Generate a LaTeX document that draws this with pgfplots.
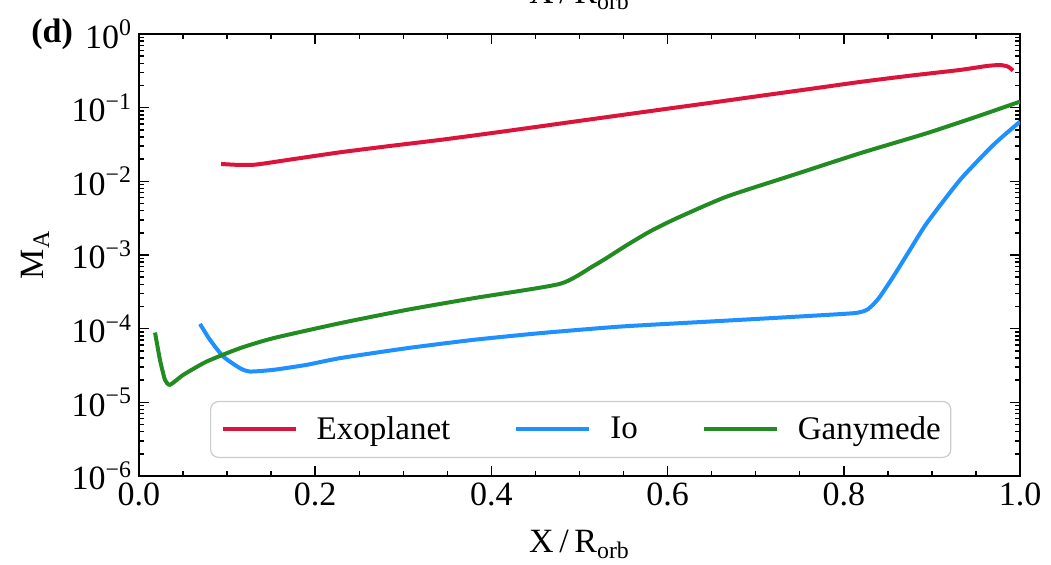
\documentclass[border=0pt]{standalone}
\usepackage{fontspec}
\setmainfont{Liberation Serif}
\usepackage{pgfplots}
\pgfplotsset{compat=1.18}
\definecolor{exo}{RGB}{220,20,60}
\definecolor{io}{RGB}{30,144,255}
\definecolor{gan}{RGB}{34,139,34}
\begin{document}
\begin{tikzpicture}[font=\fontsize{17}{20}\selectfont]
\begin{axis}[name=ax, at={(0,0)}, anchor=south west,
  scale only axis, width=440.5pt, height=221pt,
  xmin=0, xmax=1, ymin=1e-6, ymax=1, ymode=log,
  axis line style={line width=0.8pt},
  every tick/.style={black, line width=0.7pt},
  major tick length=5pt, minor tick length=2.5pt,
  tick align=inside, xtick pos=both, ytick pos=both,
  xtick={0,0.2,0.4,0.6,0.8,1},
  xticklabels={0.0,0.2,0.4,0.6,0.8,1.0},
  minor xtick={0.05,0.1,0.15,0.25,0.3,0.35,0.45,0.5,0.55,0.65,0.7,0.75,0.85,0.9,0.95},
  ytick={1e-6,1e-5,1e-4,1e-3,1e-2,1e-1,1},
  yticklabels={10\textsuperscript{−6},10\textsuperscript{−5},10\textsuperscript{−4},10\textsuperscript{−3},10\textsuperscript{−2},10\textsuperscript{−1},10\textsuperscript{0}},
  minor ytick={2e-6,3e-6,4e-6,5e-6,6e-6,7e-6,8e-6,9e-6,
    2e-5,3e-5,4e-5,5e-5,6e-5,7e-5,8e-5,9e-5,
    2e-4,3e-4,4e-4,5e-4,6e-4,7e-4,8e-4,9e-4,
    2e-3,3e-3,4e-3,5e-3,6e-3,7e-3,8e-3,9e-3,
    2e-2,3e-2,4e-2,5e-2,6e-2,7e-2,8e-2,9e-2,
    0.2,0.3,0.4,0.5,0.6,0.7,0.8,0.9},
  xlabel={X\,/\,R\textsubscript{orb}},
  xlabel style={at={(axis description cs:0.5,-0.174)}, anchor=base},
  ylabel={M\textsubscript{A}},
  ylabel style={at={(axis description cs:-0.108,0.5)}, anchor=base},
  legend columns=3,
  legend image code/.code={\draw[#1] (0pt,0pt) -- (36.5pt,0pt);},
  legend style={at={(0.0806,0.0407)}, anchor=south west,
    draw={rgb,255:red,204;green,204;blue,204}, line width=0.6pt,
    rounded corners=4pt, fill=white,
    inner xsep=5pt, inner ysep=7.5pt,
    nodes={inner sep=0pt, anchor=west, font=\fontsize{16.5}{19}\selectfont},
    /tikz/every odd column/.append style={column sep=9.5pt},
    /tikz/every even column/.append style={column sep=32pt}},
]
\addplot[exo, line width=2pt, smooth, tension=0.35] table {
0.0931 0.01722
0.1090 0.01679
0.1317 0.01683
0.1714 0.01972
0.2281 0.02477
0.2849 0.03020
0.3417 0.03648
0.3984 0.04487
0.4552 0.05570
0.4779 0.06081
0.5346 0.07551
0.5914 0.09376
0.6481 0.1161
0.7049 0.1445
0.7616 0.1795
0.8184 0.2234
0.8751 0.2716
0.9319 0.3251
0.9625 0.3681
0.9773 0.3793
0.9864 0.3606
0.9921 0.3184
};
\addlegendentry{Exoplanet}
\addplot[io, line width=2pt, smooth, tension=0.35] table {
0.0692 1.161e-4
0.0806 7.05e-5
0.0957 4.18e-5
0.1146 2.91e-5
0.1260 2.62e-5
0.1524 2.76e-5
0.1904 3.23e-5
0.2281 3.98e-5
0.3039 5.43e-5
0.3795 7.05e-5
0.4552 8.69e-5
0.5460 1.067e-4
0.6481 1.250e-4
0.7276 1.413e-4
0.8108 1.622e-4
0.8260 1.799e-4
0.8335 2.138e-4
0.8411 2.729e-4
0.8562 5.093e-4
0.8751 1.175e-3
0.8941 2.698e-3
0.9319 1.045e-2
0.9697 3.119e-2
1.0000 6.457e-2
};
\addlegendentry{Io}
\addplot[gan, line width=2pt, smooth, tension=0.35] table {
0.0182 8.87e-5
0.0238 3.78e-5
0.0295 2.02e-5
0.0352 1.73e-5
0.0503 2.36e-5
0.0768 3.58e-5
0.1146 5.43e-5
0.1524 7.43e-5
0.2281 1.186e-4
0.3039 1.80e-4
0.3795 2.59e-4
0.4779 4.06e-4
0.5146 6.97e-4
0.5309 9.12e-4
0.5525 1.334e-3
0.5800 2.089e-3
0.6103 3.155e-3
0.6671 6.209e-3
0.7427 1.222e-2
0.8184 2.404e-2
0.8941 4.498e-2
0.9508 7.551e-2
1.0000 0.1208
};
\addlegendentry{Ganymede}
\end{axis}
\node[anchor=east, font=\fontsize{17}{20}\selectfont\bfseries] at (-29.5pt,221pt) {(d)};
\node[overlay, anchor=base] at ([yshift=15pt]ax.north) {X\,/\,R\textsubscript{orb}};
\path (-69.5pt,-43pt) rectangle (456pt,238pt);
\end{tikzpicture}
\end{document}
